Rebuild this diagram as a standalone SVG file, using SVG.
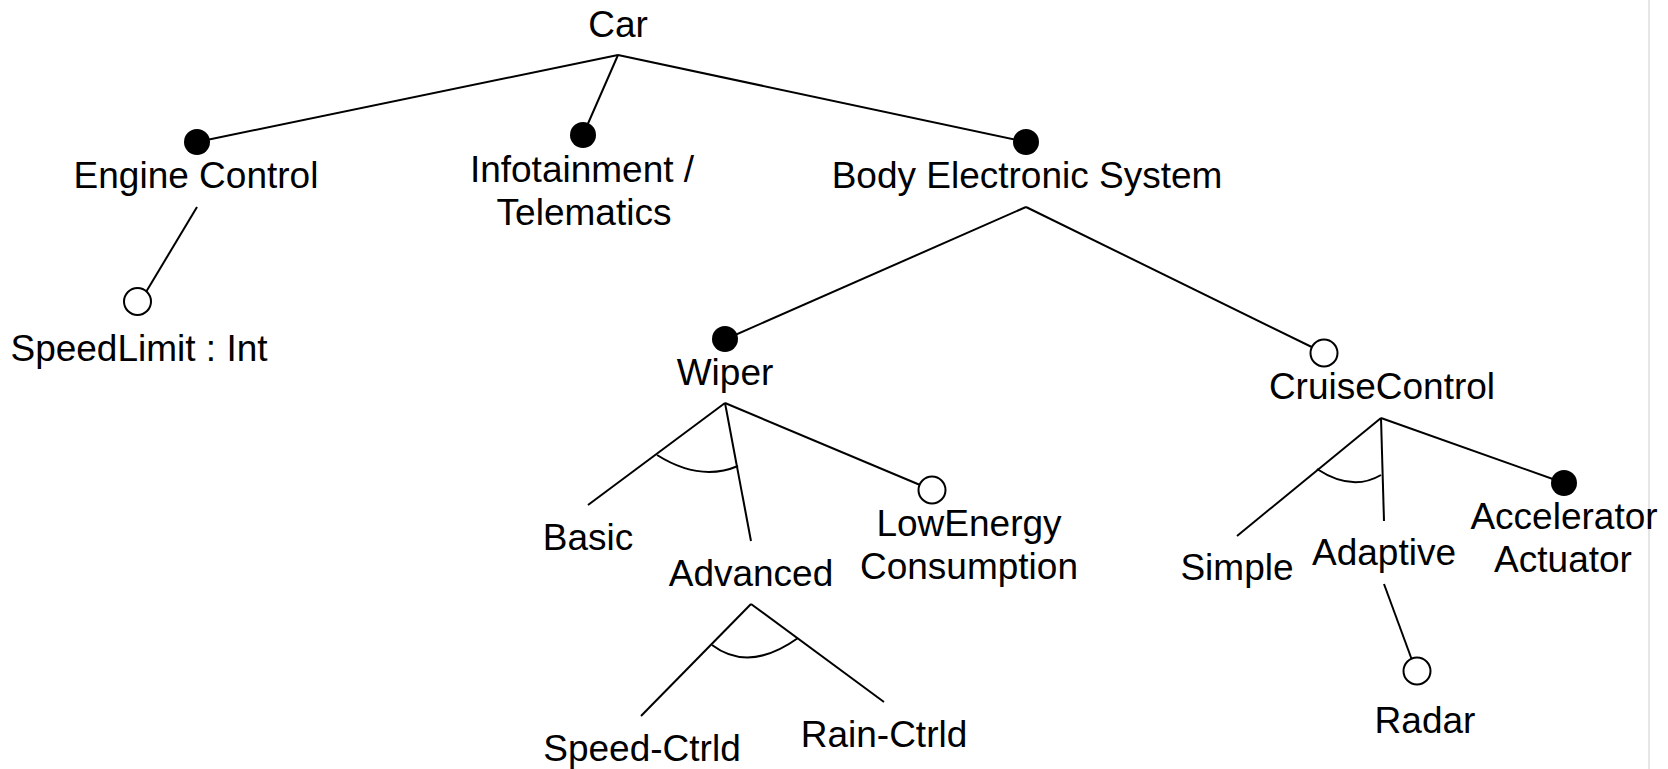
<svg xmlns="http://www.w3.org/2000/svg" width="1668" height="769" viewBox="0 0 1668 769">
  <style>
    .lbl { font-family: "Liberation Sans", Arial, sans-serif; font-size: 37px; fill: #000; text-anchor: middle; }
    .edge { stroke: #000; stroke-width: 2; fill: none; }
    .mand { fill: #000; stroke: none; }
    .opt { fill: #fff; stroke: #000; stroke-width: 2; }
  </style>
  <rect x="0" y="0" width="1668" height="769" fill="#fff"/>
  <!-- page border on the right -->
  <line x1="1649" y1="0" x2="1649" y2="769" stroke="#e6e6e6" stroke-width="2"/>

  <g id="connectors">
    <!-- Car -->
    <line class="edge" x1="618" y1="55" x2="197" y2="142"/>
    <line class="edge" x1="618" y1="55" x2="583" y2="135"/>
    <line class="edge" x1="618" y1="55" x2="1026" y2="142"/>
    <!-- Engine Control -->
    <line class="edge" x1="197" y1="207" x2="146" y2="292"/>
    <!-- Body Electronic System -->
    <line class="edge" x1="1026" y1="207" x2="726" y2="339"/>
    <line class="edge" x1="1026" y1="207" x2="1324" y2="353"/>
    <!-- Wiper -->
    <line class="edge" x1="725" y1="403" x2="588" y2="505"/>
    <line class="edge" x1="725" y1="403" x2="751" y2="541"/>
    <line class="edge" x1="725" y1="403" x2="932" y2="490"/>
    <path class="edge" d="M657,455 Q700,482 738,466"/>
    <!-- Advanced -->
    <line class="edge" x1="751" y1="604" x2="641" y2="716"/>
    <line class="edge" x1="751" y1="604" x2="884" y2="702"/>
    <path class="edge" d="M712,645 Q749,673 798,638"/>
    <!-- CruiseControl -->
    <line class="edge" x1="1381" y1="418" x2="1237" y2="536"/>
    <line class="edge" x1="1381" y1="418" x2="1384" y2="521"/>
    <line class="edge" x1="1381" y1="418" x2="1564" y2="483"/>
    <path class="edge" d="M1317,469 Q1352,492 1381,475"/>
    <!-- Adaptive -->
    <line class="edge" x1="1384" y1="584" x2="1416" y2="671"/>
  </g>

  <g id="car">
    <text class="lbl" x="618" y="37">Car</text>
  </g>
  <g id="engine-control">
    <circle class="mand" cx="197" cy="142" r="13"/>
    <text class="lbl" x="196" y="188">Engine Control</text>
  </g>
  <g id="speed-limit">
    <circle class="opt" cx="137.5" cy="301.5" r="13.5"/>
    <text class="lbl" x="139" y="361">SpeedLimit : Int</text>
  </g>
  <g id="infotainment">
    <circle class="mand" cx="583" cy="135" r="13"/>
    <text class="lbl" x="582" y="182">Infotainment /</text>
    <text class="lbl" x="584" y="225">Telematics</text>
  </g>
  <g id="body-electronic-system">
    <circle class="mand" cx="1026" cy="142" r="13"/>
    <text class="lbl" x="1027" y="188">Body Electronic System</text>
  </g>
  <g id="wiper">
    <circle class="mand" cx="725" cy="339" r="13"/>
    <text class="lbl" x="725" y="385">Wiper</text>
  </g>
  <g id="basic">
    <text class="lbl" x="588" y="550">Basic</text>
  </g>
  <g id="advanced">
    <text class="lbl" x="751" y="586">Advanced</text>
  </g>
  <g id="low-energy">
    <circle class="opt" cx="932" cy="490" r="13.5"/>
    <text class="lbl" x="969" y="536">LowEnergy</text>
    <text class="lbl" x="969" y="579">Consumption</text>
  </g>
  <g id="speed-ctrld">
    <text class="lbl" x="642" y="761">Speed-Ctrld</text>
  </g>
  <g id="rain-ctrld">
    <text class="lbl" x="884" y="747">Rain-Ctrld</text>
  </g>
  <g id="cruise-control">
    <circle class="opt" cx="1324" cy="353" r="13.5"/>
    <text class="lbl" x="1382" y="399">CruiseControl</text>
  </g>
  <g id="simple">
    <text class="lbl" x="1237" y="580">Simple</text>
  </g>
  <g id="adaptive">
    <text class="lbl" x="1384" y="565">Adaptive</text>
  </g>
  <g id="accelerator-actuator">
    <circle class="mand" cx="1564" cy="483" r="13"/>
    <text class="lbl" x="1564" y="529">Accelerator</text>
    <text class="lbl" x="1563" y="572">Actuator</text>
  </g>
  <g id="radar">
    <circle class="opt" cx="1417" cy="671" r="13.5"/>
    <text class="lbl" x="1425" y="733">Radar</text>
  </g>
</svg>
